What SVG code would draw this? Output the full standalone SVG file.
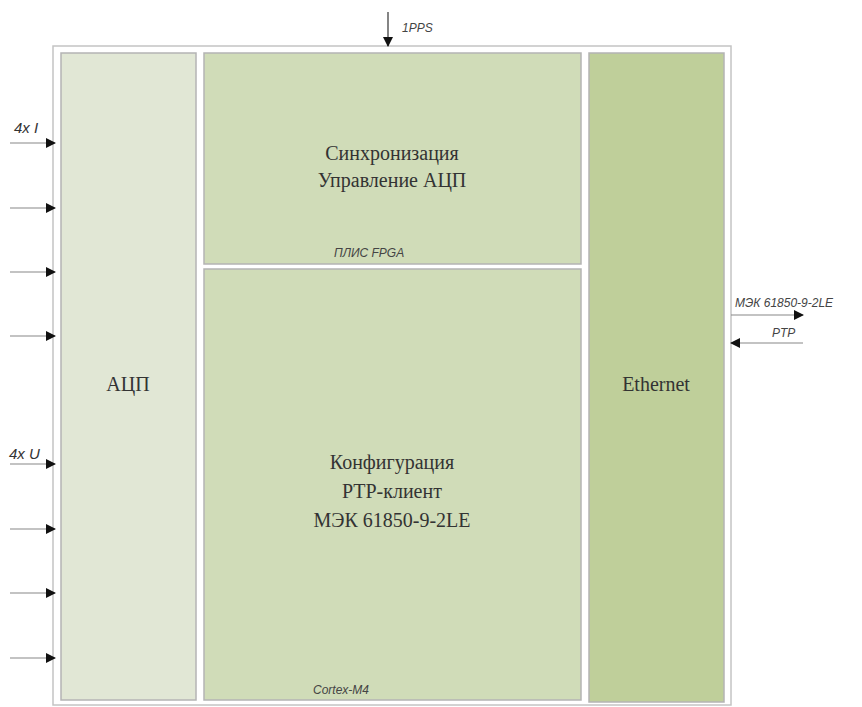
<svg xmlns="http://www.w3.org/2000/svg" width="862" height="707" viewBox="0 0 862 707">
<defs>
<marker id="ah" viewBox="0 0 10 10" refX="9" refY="5" markerWidth="10" markerHeight="11" markerUnits="userSpaceOnUse" orient="auto">
<path d="M0,0 L10,5 L0,10 z" fill="#111"/>
</marker>
</defs>
<style>
.blk{stroke:#b4b4b4;stroke-width:1.5}
.main{font-family:"Liberation Serif",serif;font-size:20px;fill:#333;text-anchor:middle}
.lbl{font-family:"Liberation Sans",sans-serif;font-style:italic;font-size:12px;fill:#444}
.io{font-family:"Liberation Sans",sans-serif;font-style:italic;font-size:15px;fill:#333}
.ln{stroke:#888;stroke-width:1.2;fill:none;marker-end:url(#ah)}
</style>
<rect width="862" height="707" fill="#fff"/>
<g id="frame"><rect x="53" y="46" width="678" height="659" fill="#fff" stroke="#c4c4c4" stroke-width="1.5"/></g>
<g id="adc"><rect class="blk" x="61" y="53" width="135" height="647" fill="#e1e7d5"/>
<text class="main" x="128" y="391">АЦП</text></g>
<g id="fpga"><rect class="blk" x="204" y="53" width="377" height="211" fill="#d0dcb8"/>
<text class="main" x="392" y="160">Синхронизация</text>
<text class="main" x="392" y="187">Управление АЦП</text>
<text class="lbl" x="334" y="257">ПЛИС FPGA</text></g>
<g id="cortex"><rect class="blk" x="204" y="269" width="377" height="431" fill="#d0dcb8"/>
<text class="main" x="392" y="469">Конфигурация</text>
<text class="main" x="392" y="498">PTP-клиент</text>
<text class="main" x="392" y="527">МЭК 61850-9-2LE</text>
<text class="lbl" x="313" y="694">Cortex-M4</text></g>
<g id="ethernet"><rect class="blk" x="589" y="53" width="135" height="649" fill="#bfcf9a"/>
<text class="main" x="656" y="391">Ethernet</text></g>
<g id="connectors">
<line class="ln" x1="10" y1="143" x2="55" y2="143"/>
<line class="ln" x1="10" y1="208" x2="55" y2="208"/>
<line class="ln" x1="10" y1="272" x2="55" y2="272"/>
<line class="ln" x1="10" y1="336" x2="55" y2="336"/>
<line class="ln" x1="10" y1="464" x2="55" y2="464"/>
<line class="ln" x1="10" y1="529" x2="55" y2="529"/>
<line class="ln" x1="10" y1="593" x2="55" y2="593"/>
<line class="ln" x1="10" y1="658" x2="55" y2="658"/>
<line class="ln" x1="388" y1="12" x2="388" y2="46" style="stroke:#333"/>
<line class="ln" x1="731" y1="315" x2="803" y2="315"/>
<line class="ln" x1="803" y1="343" x2="731" y2="343"/>
</g>
<g id="labels">
<text class="io" x="14" y="133">4x I</text>
<text class="io" x="9" y="459">4x U</text>
<text class="lbl" x="402" y="32">1PPS</text>
<text class="lbl" x="735" y="307">МЭК 61850-9-2LE</text>
<text class="lbl" x="772" y="337">PTP</text>
</g>
</svg>
